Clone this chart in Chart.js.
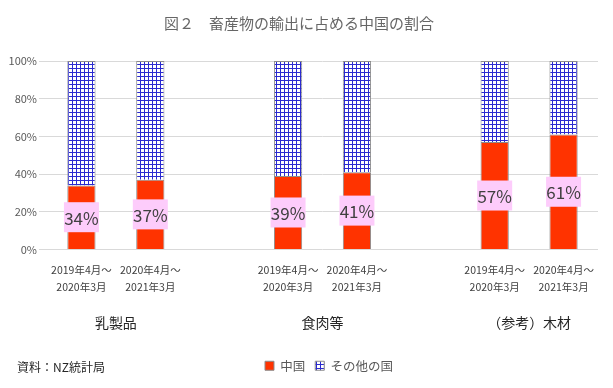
<!DOCTYPE html>
<html>
<head>
<meta charset="utf-8">
<script src="https://cdn.jsdelivr.net/npm/chart.js@4/dist/chart.umd.min.js"></script>
<style>
  html, body { margin: 0; padding: 0; background: #fff; }
  #wrap { position: relative; width: 613px; height: 388px; }
</style>
</head>
<body>
<div id="wrap"><canvas id="chart" width="613" height="388"></canvas></div>
<script>
const titleText = "図２　畜産物の輸出に占める中国の割合";
const sourceText = "資料：NZ統計局";
const periodLabels = [
  ["2019年4月～", "2020年3月"],
  ["2020年4月～", "2021年3月"],
  "",
  ["2019年4月～", "2020年3月"],
  ["2020年4月～", "2021年3月"],
  "",
  ["2019年4月～", "2020年3月"],
  ["2020年4月～", "2021年3月"]
];
const groupLabels = ["乳製品", "食肉等", "（参考）木材"];
const chinaShare = [34, 37, null, 39, 41, null, 57, 61];
const otherShare = [66, 63, null, 61, 59, null, 43, 39];
const seriesNames = ["中国", "その他の国"];

const FONT = "'Noto Sans CJK JP', 'Noto Sans', sans-serif";

// blue grid hatch for "その他の国"
function makeGridPattern() {
  const c = document.createElement("canvas");
  c.width = 4;
  c.height = 4;
  const g = c.getContext("2d");
  g.fillStyle = "#ffffff";
  g.fillRect(0, 0, 4, 4);
  g.fillStyle = "#2a2ad0";
  g.fillRect(0, 0, 4, 1);
  g.fillRect(0, 0, 1, 4);
  return g.createPattern(c, "repeat");
}

const ctx = document.getElementById("chart").getContext("2d");
const gridPattern = makeGridPattern();

const valueLabels = {
  id: "valueLabels",
  afterDatasetsDraw(chart) {
    const meta = chart.getDatasetMeta(0);
    const c = chart.ctx;
    c.save();
    c.font = "17px " + FONT;
    c.textAlign = "center";
    c.textBaseline = "middle";
    meta.data.forEach((bar, i) => {
      const v = chinaShare[i];
      if (v == null) return;
      const y = (bar.y + bar.base) / 2;
      const w = 35, h = 30;
      c.fillStyle = "#fdccfb";
      c.fillRect(bar.x - w / 2, y - h / 2, w, h);
      c.fillStyle = "#404040";
      c.fillText(v + "%", bar.x, y + 1);
    });
    c.restore();
  }
};

// group names under the period labels, source note, and legend shift
const groupText = {
  id: "groupText",
  afterUpdate(chart) {
    const lg = chart.legend;
    if (lg) {
      lg.left += 30;
      lg.right += 30;
      lg.adjustHitBoxes();
    }
  },
  afterDraw(chart) {
    const xs = chart.scales.x;
    const c = chart.ctx;
    c.save();
    c.font = "14px " + FONT;
    c.fillStyle = "#262626";
    c.textAlign = "center";
    c.textBaseline = "middle";
    groupLabels.forEach((g, k) => {
      const x = (xs.getPixelForValue(k * 3) + xs.getPixelForValue(k * 3 + 1)) / 2;
      c.fillText(g, x, chart.chartArea.bottom + 73);
    });
    c.font = "12px " + FONT;
    c.textAlign = "left";
    c.fillText(sourceText, 17, 367);
    c.restore();
  }
};

new Chart(ctx, {
  type: "bar",
  data: {
    labels: periodLabels,
    datasets: [
      {
        label: seriesNames[0],
        data: chinaShare,
        backgroundColor: "#ff3300",
        borderColor: "#8c8c8c",
        borderWidth: 1
      },
      {
        label: seriesNames[1],
        data: otherShare,
        backgroundColor: gridPattern,
        borderColor: "#8c8c8c",
        borderWidth: 1
      }
    ]
  },
  options: {
    responsive: false,
    animation: false,
    layout: { padding: { left: 0, right: 15, top: 0, bottom: 6 } },
    datasets: { bar: { categoryPercentage: 1, barPercentage: 0.41 } },
    scales: {
      x: {
        stacked: true,
        grid: { display: false },
        border: { display: false },
        ticks: { color: "#404040", font: { family: FONT, size: 10.5, lineHeight: 1.6 }, padding: 4, maxRotation: 0, autoSkip: false },
        afterFit(axis) { axis.height = 100; }
      },
      y: {
        stacked: true,
        min: 0,
        max: 100,
        grid: { color: "#d9d9d9" },
        border: { display: false },
        ticks: { stepSize: 20, color: "#595959", font: { family: FONT, size: 11 }, padding: 2, callback: v => v + "%" },
        afterFit(axis) { axis.width = 47; }
      }
    },
    plugins: {
      title: {
        display: true,
        text: titleText,
        color: "#666666",
        font: { family: FONT, size: 15, weight: "normal" },
        padding: { top: 14, bottom: 29 }
      },
      legend: {
        position: "bottom",
        labels: {
          color: "#595959",
          font: { family: FONT, size: 12.5 },
          boxWidth: 9,
          boxHeight: 9,
          padding: 10
        }
      },
      tooltip: { enabled: false }
    }
  },
  plugins: [valueLabels, groupText]
});
</script>
</body>
</html>
